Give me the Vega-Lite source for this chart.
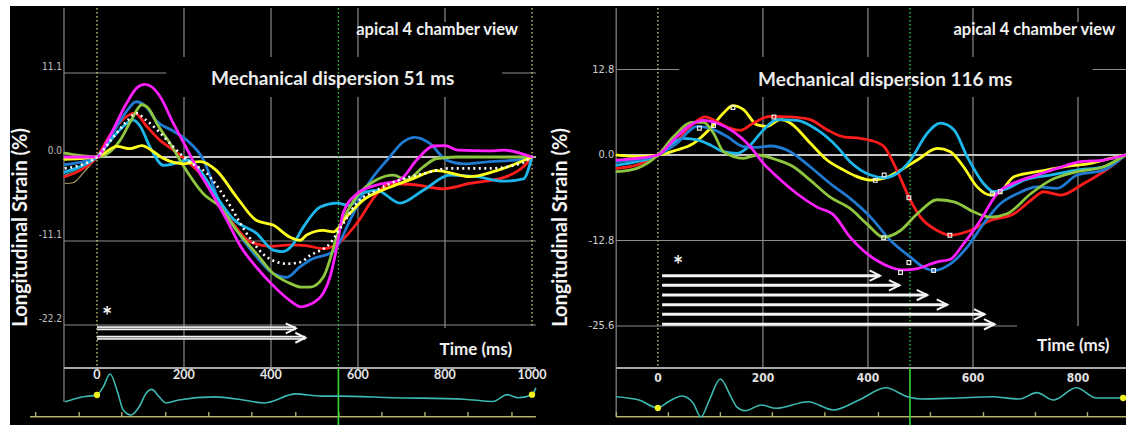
{
"$schema": "https://vega.github.io/schema/vega-lite/v6.json",
"width": 1116, "height": 419,
"padding": {"left": 10, "top": 6, "right": 0, "bottom": 0},
"autosize": {"type": "none"},
"background": "white",
"config": {"view": {"fill": "black", "stroke": null}, "text": {"font": "Lato"}},
"datasets": {
"L": [
{"s":"red","t":-74,"v":-2.6},{"s":"red","t":-40,"v":-1.8},{"s":"red","t":0,"v":0},{"s":"red","t":28,"v":2.7},{"s":"red","t":62,"v":5.1},{"s":"red","t":87,"v":5.8},{"s":"red","t":115,"v":4.0},{"s":"red","t":145,"v":2.2},{"s":"red","t":176,"v":0.9},{"s":"red","t":200,"v":-0.2},{"s":"red","t":237,"v":-2.2},{"s":"red","t":275,"v":-5.7},{"s":"red","t":313,"v":-8.8},{"s":"red","t":352,"v":-11.2},{"s":"red","t":400,"v":-11.8},{"s":"red","t":444,"v":-11.6},{"s":"red","t":480,"v":-11.7},{"s":"red","t":520,"v":-12.1},{"s":"red","t":559,"v":-11.2},{"s":"red","t":597,"v":-8.8},{"s":"red","t":643,"v":-4.9},{"s":"red","t":673,"v":-3.5},{"s":"red","t":735,"v":-3.7},{"s":"red","t":796,"v":-4.2},{"s":"red","t":857,"v":-3.5},{"s":"red","t":941,"v":-2.6},{"s":"red","t":980,"v":-1.3},{"s":"red","t":1000,"v":0},
{"s":"blue","t":-74,"v":-1.0},{"s":"blue","t":-40,"v":-0.7},{"s":"blue","t":0,"v":0},{"s":"blue","t":40,"v":3.5},{"s":"blue","t":70,"v":6.2},{"s":"blue","t":90,"v":7.3},{"s":"blue","t":110,"v":6.8},{"s":"blue","t":138,"v":4.7},{"s":"blue","t":176,"v":3.4},{"s":"blue","t":207,"v":2.2},{"s":"blue","t":245,"v":-0.4},{"s":"blue","t":283,"v":-6.2},{"s":"blue","t":321,"v":-9.7},{"s":"blue","t":367,"v":-13.2},{"s":"blue","t":405,"v":-15.4},{"s":"blue","t":436,"v":-15.9},{"s":"blue","t":467,"v":-14.5},{"s":"blue","t":490,"v":-13.6},{"s":"blue","t":543,"v":-12.5},{"s":"blue","t":582,"v":-8.3},{"s":"blue","t":620,"v":-3.9},{"s":"blue","t":673,"v":0},{"s":"blue","t":704,"v":2.0},{"s":"blue","t":731,"v":2.6},{"s":"blue","t":765,"v":1.8},{"s":"blue","t":803,"v":-0.4},{"s":"blue","t":842,"v":-0.9},{"s":"blue","t":904,"v":-0.6},{"s":"blue","t":965,"v":-0.4},{"s":"blue","t":1000,"v":0},
{"s":"cyan","t":-74,"v":-2.0},{"s":"cyan","t":-40,"v":-1.3},{"s":"cyan","t":0,"v":0},{"s":"cyan","t":40,"v":2.8},{"s":"cyan","t":70,"v":4.5},{"s":"cyan","t":82,"v":4.9},{"s":"cyan","t":100,"v":4.0},{"s":"cyan","t":122,"v":1.3},{"s":"cyan","t":153,"v":-1.1},{"s":"cyan","t":176,"v":-0.9},{"s":"cyan","t":207,"v":-0.4},{"s":"cyan","t":237,"v":-1.8},{"s":"cyan","t":275,"v":-5.2},{"s":"cyan","t":313,"v":-8.2},{"s":"cyan","t":367,"v":-10.1},{"s":"cyan","t":405,"v":-12.3},{"s":"cyan","t":428,"v":-12.5},{"s":"cyan","t":447,"v":-11.8},{"s":"cyan","t":475,"v":-9.2},{"s":"cyan","t":513,"v":-6.6},{"s":"cyan","t":551,"v":-6.1},{"s":"cyan","t":582,"v":-6.4},{"s":"cyan","t":605,"v":-4.9},{"s":"cyan","t":643,"v":-4.4},{"s":"cyan","t":697,"v":-6.1},{"s":"cyan","t":750,"v":-4.4},{"s":"cyan","t":811,"v":-2.4},{"s":"cyan","t":873,"v":-2.6},{"s":"cyan","t":934,"v":-3.2},{"s":"cyan","t":980,"v":-2.9},{"s":"cyan","t":1000,"v":0},
{"s":"green","t":-74,"v":0.5},{"s":"green","t":-40,"v":0.2},{"s":"green","t":0,"v":0},{"s":"green","t":53,"v":2.2},{"s":"green","t":80,"v":5.0},{"s":"green","t":103,"v":6.9},{"s":"green","t":120,"v":6.3},{"s":"green","t":138,"v":4.4},{"s":"green","t":168,"v":1.8},{"s":"green","t":200,"v":-1.3},{"s":"green","t":245,"v":-4.9},{"s":"green","t":283,"v":-6.6},{"s":"green","t":321,"v":-9.7},{"s":"green","t":367,"v":-12.8},{"s":"green","t":405,"v":-15.4},{"s":"green","t":444,"v":-16.7},{"s":"green","t":470,"v":-17.2},{"s":"green","t":490,"v":-17.2},{"s":"green","t":520,"v":-15.9},{"s":"green","t":559,"v":-9.2},{"s":"green","t":597,"v":-5.2},{"s":"green","t":643,"v":-3.0},{"s":"green","t":681,"v":-2.4},{"s":"green","t":712,"v":-3.0},{"s":"green","t":750,"v":-1.3},{"s":"green","t":781,"v":-0.2},{"s":"green","t":827,"v":0},{"s":"green","t":1000,"v":0},
{"s":"yellow","t":-74,"v":-0.3},{"s":"yellow","t":-40,"v":-0.2},{"s":"yellow","t":0,"v":0},{"s":"yellow","t":46,"v":1.4},{"s":"yellow","t":76,"v":1.1},{"s":"yellow","t":103,"v":1.5},{"s":"yellow","t":130,"v":0.7},{"s":"yellow","t":153,"v":-0.2},{"s":"yellow","t":200,"v":-0.9},{"s":"yellow","t":237,"v":-0.6},{"s":"yellow","t":275,"v":-1.8},{"s":"yellow","t":321,"v":-5.3},{"s":"yellow","t":367,"v":-8.4},{"s":"yellow","t":405,"v":-9.0},{"s":"yellow","t":444,"v":-10.6},{"s":"yellow","t":467,"v":-11.0},{"s":"yellow","t":482,"v":-10.3},{"s":"yellow","t":520,"v":-9.7},{"s":"yellow","t":543,"v":-9.9},{"s":"yellow","t":574,"v":-7.9},{"s":"yellow","t":612,"v":-5.7},{"s":"yellow","t":673,"v":-4.0},{"s":"yellow","t":720,"v":-3.0},{"s":"yellow","t":781,"v":-1.8},{"s":"yellow","t":857,"v":-2.6},{"s":"yellow","t":919,"v":-1.8},{"s":"yellow","t":1000,"v":0},
{"s":"magenta","t":-74,"v":0},{"s":"magenta","t":-40,"v":0},{"s":"magenta","t":0,"v":0},{"s":"magenta","t":28,"v":2.6},{"s":"magenta","t":68,"v":7.1},{"s":"magenta","t":91,"v":9.1},{"s":"magenta","t":110,"v":9.6},{"s":"magenta","t":125,"v":9.3},{"s":"magenta","t":145,"v":8.0},{"s":"magenta","t":175,"v":4.5},{"s":"magenta","t":200,"v":1.8},{"s":"magenta","t":230,"v":-1.5},{"s":"magenta","t":260,"v":-4.4},{"s":"magenta","t":300,"v":-8.5},{"s":"magenta","t":330,"v":-11.8},{"s":"magenta","t":370,"v":-14.8},{"s":"magenta","t":400,"v":-16.7},{"s":"magenta","t":440,"v":-18.8},{"s":"magenta","t":470,"v":-19.8},{"s":"magenta","t":489,"v":-19.5},{"s":"magenta","t":520,"v":-18.0},{"s":"magenta","t":536,"v":-15.8},{"s":"magenta","t":551,"v":-12.0},{"s":"magenta","t":566,"v":-7.4},{"s":"magenta","t":597,"v":-4.9},{"s":"magenta","t":643,"v":-3.7},{"s":"magenta","t":697,"v":-3.0},{"s":"magenta","t":735,"v":-0.4},{"s":"magenta","t":773,"v":1.45},{"s":"magenta","t":800,"v":1.5},{"s":"magenta","t":830,"v":0.9},{"s":"magenta","t":900,"v":0.8},{"s":"magenta","t":935,"v":0.9},{"s":"magenta","t":1000,"v":0},
{"s":"mean","t":-74,"v":-1.5},{"s":"mean","t":-40,"v":-1.1},{"s":"mean","t":0,"v":0},{"s":"mean","t":40,"v":2.8},{"s":"mean","t":70,"v":4.8},{"s":"mean","t":90,"v":5.8},{"s":"mean","t":110,"v":5.0},{"s":"mean","t":138,"v":3.6},{"s":"mean","t":176,"v":1.3},{"s":"mean","t":207,"v":-0.4},{"s":"mean","t":253,"v":-2.2},{"s":"mean","t":298,"v":-5.7},{"s":"mean","t":344,"v":-10.1},{"s":"mean","t":390,"v":-13.2},{"s":"mean","t":436,"v":-14.1},{"s":"mean","t":467,"v":-13.9},{"s":"mean","t":490,"v":-13.0},{"s":"mean","t":536,"v":-11.4},{"s":"mean","t":566,"v":-8.8},{"s":"mean","t":597,"v":-6.1},{"s":"mean","t":643,"v":-4.4},{"s":"mean","t":697,"v":-3.0},{"s":"mean","t":750,"v":-2.2},{"s":"mean","t":811,"v":-1.5},{"s":"mean","t":904,"v":-1.5},{"s":"mean","t":972,"v":-0.9},{"s":"mean","t":1000,"v":0},
{"s":"thinA","t":-74,"v":-2.4},{"s":"thinA","t":-40,"v":-1.5},{"s":"thinA","t":0,"v":0},
{"s":"thinB","t":-74,"v":-3.5},{"s":"thinB","t":-55,"v":-3.4},{"s":"thinB","t":-30,"v":-2.0},{"s":"thinB","t":0,"v":0}
],
"R": [
{"s":"yellow","t":-78,"v":0},{"s":"yellow","t":-40,"v":-0.2},{"s":"yellow","t":0,"v":0},{"s":"yellow","t":36,"v":0.75},{"s":"yellow","t":68,"v":1.75},{"s":"yellow","t":100,"v":4.0},{"s":"yellow","t":125,"v":6.3},{"s":"yellow","t":143,"v":7.4},{"s":"yellow","t":163,"v":6.8},{"s":"yellow","t":189,"v":4.5},{"s":"yellow","t":208,"v":4.3},{"s":"yellow","t":233,"v":5.3},{"s":"yellow","t":252,"v":4.8},{"s":"yellow","t":290,"v":1.8},{"s":"yellow","t":322,"v":-0.75},{"s":"yellow","t":354,"v":-2.26},{"s":"yellow","t":375,"v":-3.1},{"s":"yellow","t":405,"v":-3.76},{"s":"yellow","t":430,"v":-3.5},{"s":"yellow","t":462,"v":-2.26},{"s":"yellow","t":494,"v":-0.75},{"s":"yellow","t":532,"v":1.0},{"s":"yellow","t":557,"v":0.5},{"s":"yellow","t":582,"v":-1.76},{"s":"yellow","t":608,"v":-4.77},{"s":"yellow","t":633,"v":-6.0},{"s":"yellow","t":652,"v":-5.5},{"s":"yellow","t":678,"v":-3.26},{"s":"yellow","t":722,"v":-2.5},{"s":"yellow","t":773,"v":-1.76},{"s":"yellow","t":824,"v":-1.26},{"s":"yellow","t":862,"v":-0.5},{"s":"yellow","t":890,"v":0},
{"s":"red","t":-78,"v":-2.0},{"s":"red","t":-40,"v":-1.5},{"s":"red","t":0,"v":0},{"s":"red","t":36,"v":2.0},{"s":"red","t":62,"v":4.3},{"s":"red","t":90,"v":5.7},{"s":"red","t":112,"v":5.0},{"s":"red","t":138,"v":4.0},{"s":"red","t":157,"v":3.7},{"s":"red","t":182,"v":4.8},{"s":"red","t":214,"v":5.8},{"s":"red","t":252,"v":5.7},{"s":"red","t":290,"v":5.3},{"s":"red","t":322,"v":3.8},{"s":"red","t":354,"v":2.7},{"s":"red","t":385,"v":2.5},{"s":"red","t":405,"v":2.2},{"s":"red","t":430,"v":1.3},{"s":"red","t":455,"v":-2.26},{"s":"red","t":481,"v":-6.8},{"s":"red","t":500,"v":-9.3},{"s":"red","t":532,"v":-11.3},{"s":"red","t":557,"v":-12.0},{"s":"red","t":595,"v":-11.3},{"s":"red","t":633,"v":-9.8},{"s":"red","t":678,"v":-8.8},{"s":"red","t":710,"v":-6.8},{"s":"red","t":735,"v":-5.5},{"s":"red","t":767,"v":-6.0},{"s":"red","t":811,"v":-4.26},{"s":"red","t":862,"v":-1.76},{"s":"red","t":890,"v":0},
{"s":"cyan","t":-78,"v":-1.5},{"s":"cyan","t":-40,"v":-1.0},{"s":"cyan","t":0,"v":0},{"s":"cyan","t":23,"v":1.5},{"s":"cyan","t":49,"v":2.5},{"s":"cyan","t":75,"v":2.26},{"s":"cyan","t":100,"v":1.5},{"s":"cyan","t":125,"v":0.5},{"s":"cyan","t":151,"v":0.26},{"s":"cyan","t":176,"v":1.5},{"s":"cyan","t":201,"v":3.76},{"s":"cyan","t":227,"v":5.3},{"s":"cyan","t":265,"v":5.2},{"s":"cyan","t":303,"v":3.8},{"s":"cyan","t":341,"v":1.26},{"s":"cyan","t":366,"v":-1.0},{"s":"cyan","t":405,"v":-3.0},{"s":"cyan","t":430,"v":-3.4},{"s":"cyan","t":455,"v":-2.76},{"s":"cyan","t":481,"v":-0.75},{"s":"cyan","t":513,"v":3.26},{"s":"cyan","t":538,"v":4.77},{"s":"cyan","t":564,"v":3.76},{"s":"cyan","t":589,"v":-0.26},{"s":"cyan","t":620,"v":-4.26},{"s":"cyan","t":640,"v":-5.5},{"s":"cyan","t":665,"v":-5.0},{"s":"cyan","t":697,"v":-3.76},{"s":"cyan","t":748,"v":-3.0},{"s":"cyan","t":798,"v":-2.26},{"s":"cyan","t":849,"v":-1.76},{"s":"cyan","t":890,"v":0},
{"s":"blue","t":-78,"v":-1.0},{"s":"blue","t":-40,"v":-0.7},{"s":"blue","t":0,"v":0},{"s":"blue","t":36,"v":1.76},{"s":"blue","t":75,"v":4.3},{"s":"blue","t":100,"v":4.0},{"s":"blue","t":132,"v":2.76},{"s":"blue","t":163,"v":1.26},{"s":"blue","t":189,"v":1.15},{"s":"blue","t":214,"v":1.35},{"s":"blue","t":252,"v":0.5},{"s":"blue","t":290,"v":-1.76},{"s":"blue","t":328,"v":-4.26},{"s":"blue","t":366,"v":-6.5},{"s":"blue","t":405,"v":-9.3},{"s":"blue","t":443,"v":-12.8},{"s":"blue","t":481,"v":-15.3},{"s":"blue","t":506,"v":-16.8},{"s":"blue","t":525,"v":-17.3},{"s":"blue","t":557,"v":-16.3},{"s":"blue","t":589,"v":-13.8},{"s":"blue","t":620,"v":-10.3},{"s":"blue","t":652,"v":-7.3},{"s":"blue","t":684,"v":-5.8},{"s":"blue","t":722,"v":-4.77},{"s":"blue","t":760,"v":-5.0},{"s":"blue","t":798,"v":-3.0},{"s":"blue","t":849,"v":-2.26},{"s":"blue","t":890,"v":0},
{"s":"green","t":-78,"v":-2.5},{"s":"green","t":-40,"v":-2.0},{"s":"green","t":0,"v":0},{"s":"green","t":30,"v":2.76},{"s":"green","t":65,"v":4.9},{"s":"green","t":87,"v":4.9},{"s":"green","t":106,"v":3.26},{"s":"green","t":125,"v":0.5},{"s":"green","t":163,"v":-0.5},{"s":"green","t":189,"v":0},{"s":"green","t":227,"v":-0.75},{"s":"green","t":258,"v":-1.76},{"s":"green","t":290,"v":-3.76},{"s":"green","t":328,"v":-6.3},{"s":"green","t":366,"v":-8.0},{"s":"green","t":398,"v":-10.3},{"s":"green","t":430,"v":-12.3},{"s":"green","t":462,"v":-11.3},{"s":"green","t":494,"v":-8.8},{"s":"green","t":532,"v":-6.7},{"s":"green","t":564,"v":-7.0},{"s":"green","t":601,"v":-8.5},{"s":"green","t":633,"v":-9.3},{"s":"green","t":665,"v":-8.8},{"s":"green","t":710,"v":-5.8},{"s":"green","t":748,"v":-3.76},{"s":"green","t":798,"v":-2.5},{"s":"green","t":849,"v":-1.76},{"s":"green","t":890,"v":0},
{"s":"magenta","t":-78,"v":-0.75},{"s":"magenta","t":-40,"v":-0.5},{"s":"magenta","t":0,"v":0},{"s":"magenta","t":30,"v":2.26},{"s":"magenta","t":62,"v":4.5},{"s":"magenta","t":87,"v":5.2},{"s":"magenta","t":112,"v":4.8},{"s":"magenta","t":144,"v":3.5},{"s":"magenta","t":176,"v":1.26},{"s":"magenta","t":201,"v":-1.26},{"s":"magenta","t":227,"v":-3.26},{"s":"magenta","t":265,"v":-5.8},{"s":"magenta","t":303,"v":-7.8},{"s":"magenta","t":335,"v":-9.0},{"s":"magenta","t":366,"v":-12.3},{"s":"magenta","t":391,"v":-14.3},{"s":"magenta","t":417,"v":-15.8},{"s":"magenta","t":443,"v":-16.8},{"s":"magenta","t":468,"v":-17.2},{"s":"magenta","t":494,"v":-17.0},{"s":"magenta","t":532,"v":-16.0},{"s":"magenta","t":557,"v":-15.6},{"s":"magenta","t":582,"v":-13.3},{"s":"magenta","t":614,"v":-9.8},{"s":"magenta","t":646,"v":-5.77},{"s":"magenta","t":684,"v":-4.0},{"s":"magenta","t":722,"v":-3.0},{"s":"magenta","t":760,"v":-2.0},{"s":"magenta","t":805,"v":-1.0},{"s":"magenta","t":849,"v":-0.75},{"s":"magenta","t":890,"v":0}
],
"Lg": [
{"k":"g","t":200,"t2":200,"v":19.69,"v2":13.21},{"k":"g","t":200,"t2":200,"v":7.93,"v2":-27.88},
{"k":"g","t":400,"t2":400,"v":19.69,"v2":13.21},{"k":"g","t":400,"t2":400,"v":7.93,"v2":-27.88},
{"k":"g","t":600,"t2":600,"v":19.69,"v2":13.21},{"k":"g","t":600,"t2":600,"v":7.93,"v2":-27.88},
{"k":"g","t":800,"t2":800,"v":19.69,"v2":17.84},{"k":"g","t":800,"t2":800,"v":7.93,"v2":-22.6},
{"k":"g","t":-75.9,"t2":-75.9,"v":19.69,"v2":-32.37},
{"k":"g","t":-75.9,"t2":159,"v":11.1,"v2":11.1},{"k":"g","t":931,"t2":1009,"v":11.1,"v2":11.1},
{"k":"g","t":-75.9,"t2":1009,"v":-11.1,"v2":-11.1},{"k":"g","t":-75.9,"t2":1009,"v":-22.2,"v2":-22.2},
{"k":"z","t":-75.9,"t2":1009,"v":0,"v2":0},
{"k":"sep","t":-75.9,"t2":1009,"v":-27.88,"v2":-27.88},
{"k":"tl","t":-154,"t2":1009,"v":-34.32,"v2":-34.32},
{"k":"tk","t":-141,"t2":-141,"v":-34.32,"v2":-33.7},{"k":"tk","t":-41,"t2":-41,"v":-34.32,"v2":-33.7},{"k":"tk","t":57,"t2":57,"v":-34.32,"v2":-33.7},{"k":"tk","t":158,"t2":158,"v":-34.32,"v2":-33.7},{"k":"tk","t":257,"t2":257,"v":-34.32,"v2":-33.7},{"k":"tk","t":356,"t2":356,"v":-34.32,"v2":-33.7},{"k":"tk","t":457,"t2":457,"v":-34.32,"v2":-33.7},{"k":"tk","t":556,"t2":556,"v":-34.32,"v2":-33.7},{"k":"tk","t":655,"t2":655,"v":-34.32,"v2":-33.7},{"k":"tk","t":754,"t2":754,"v":-34.32,"v2":-33.7},{"k":"tk","t":853,"t2":853,"v":-34.32,"v2":-33.7},{"k":"tk","t":954,"t2":954,"v":-34.32,"v2":-33.7},
{"k":"dy","t":0,"t2":0,"v":19.69,"v2":-27.88},{"k":"dy","t":1000,"t2":1000,"v":19.69,"v2":-22.6},
{"k":"dg","t":555,"t2":555,"v":19.69,"v2":-27.88},
{"k":"sg","t":555,"t2":555,"v":-27.88,"v2":-35.4}
],
"Rg": [
{"k":"g","t":200,"t2":200,"v":22.0,"v2":14.67},{"k":"g","t":200,"t2":200,"v":8.68,"v2":-31.89},
{"k":"g","t":400,"t2":400,"v":22.0,"v2":14.67},{"k":"g","t":400,"t2":400,"v":8.68,"v2":-31.89},
{"k":"g","t":600,"t2":600,"v":22.0,"v2":14.67},{"k":"g","t":600,"t2":600,"v":8.68,"v2":-31.89},
{"k":"g","t":800,"t2":800,"v":22.0,"v2":19.91},{"k":"g","t":800,"t2":800,"v":8.68,"v2":-25.6},
{"k":"g","t":-79.4,"t2":-79.4,"v":22.0,"v2":-39.18},
{"k":"g","t":-79.4,"t2":40.6,"v":12.8,"v2":12.8},{"k":"g","t":828,"t2":891.4,"v":12.8,"v2":12.8},
{"k":"g","t":-79.4,"t2":891.4,"v":-12.8,"v2":-12.8},{"k":"g","t":-79.4,"t2":684,"v":-25.6,"v2":-25.6},
{"k":"z","t":-79.4,"t2":891.4,"v":0,"v2":0},
{"k":"sep","t":-79.4,"t2":891.4,"v":-31.89,"v2":-31.89},
{"k":"tl","t":-79.4,"t2":891.4,"v":-39.18,"v2":-39.18},
{"k":"tk","t":-79,"t2":-79,"v":-39.18,"v2":-38.5},{"k":"tk","t":20,"t2":20,"v":-39.18,"v2":-38.5},{"k":"tk","t":119,"t2":119,"v":-39.18,"v2":-38.5},{"k":"tk","t":218,"t2":218,"v":-39.18,"v2":-38.5},{"k":"tk","t":318,"t2":318,"v":-39.18,"v2":-38.5},{"k":"tk","t":420,"t2":420,"v":-39.18,"v2":-38.5},{"k":"tk","t":519,"t2":519,"v":-39.18,"v2":-38.5},{"k":"tk","t":620,"t2":620,"v":-39.18,"v2":-38.5},{"k":"tk","t":719,"t2":719,"v":-39.18,"v2":-38.5},{"k":"tk","t":818,"t2":818,"v":-39.18,"v2":-38.5},
{"k":"dy","t":0,"t2":0,"v":22.0,"v2":-31.89},
{"k":"dg","t":480,"t2":480,"v":22.0,"v2":-31.89},
{"k":"sg","t":480,"t2":480,"v":-31.89,"v2":-40.42}
],
"Le": [
{"t":-73.6,"v":-32.34},{"t":-34.5,"v":-31.7},{"t":0,"v":-31.45},{"t":15,"v":-30.3},{"t":30,"v":-28.67},{"t":48,"v":-31.2},{"t":60,"v":-33.4},{"t":78,"v":-34.09},{"t":97,"v":-33.0},{"t":113,"v":-31.2},{"t":126,"v":-30.7},{"t":143,"v":-31.7},{"t":159,"v":-32.5},{"t":188,"v":-32.1},{"t":269,"v":-31.7},{"t":336,"v":-32.1},{"t":384,"v":-32.5},{"t":457,"v":-31.3},{"t":515,"v":-31.6},{"t":556,"v":-31.6},{"t":680,"v":-31.8},{"t":844,"v":-32.0},{"t":910,"v":-32.3},{"t":943,"v":-31.4},{"t":968,"v":-31.8},{"t":1000,"v":-31.4},{"t":1009,"v":-30.5}
],
"Re": [
{"t":-80,"v":-36.18},{"t":-36,"v":-36.68},{"t":0,"v":-37.87},{"t":20,"v":-36.93},{"t":46,"v":-36.08},{"t":67,"v":-37.13},{"t":82,"v":-39.22},{"t":98,"v":-36.68},{"t":119,"v":-33.53},{"t":139,"v":-36.18},{"t":150,"v":-37.7},{"t":166,"v":-38.28},{"t":197,"v":-37.43},{"t":225,"v":-37.92},{"t":286,"v":-36.93},{"t":334,"v":-38.17},{"t":383,"v":-36.68},{"t":434,"v":-34.84},{"t":475,"v":-36.18},{"t":499,"v":-36.53},{"t":568,"v":-36.38},{"t":636,"v":-36.18},{"t":688,"v":-36.53},{"t":722,"v":-35.58},{"t":753,"v":-36.68},{"t":797,"v":-34.84},{"t":835,"v":-36.38},{"t":891,"v":-36.38}
],
"Ld": [{"t":0,"v":-31.45},{"t":1000,"v":-31.4}],
"Rd": [{"t":0,"v":-37.87},{"t":886,"v":-36.38}],
"La": [{"t":0,"t2":457,"v":-22.64,"v2":-22.64},{"t":0,"t2":479,"v":-23.88,"v2":-23.88}],
"Ra": [{"t":8,"t2":423,"v":-18.07,"v2":-18.07},{"t":8,"t2":460,"v":-19.51,"v2":-19.51},{"t":8,"t2":513,"v":-20.96,"v2":-20.96},{"t":8,"t2":551,"v":-22.41,"v2":-22.41},{"t":8,"t2":622,"v":-23.85,"v2":-23.85},{"t":8,"t2":641,"v":-25.34,"v2":-25.34}],
"Rm": [{"t":79,"v":4.0},{"t":106,"v":4.4},{"t":143,"v":7.1},{"t":221,"v":5.7},{"t":414,"v":-3.8},{"t":431,"v":-3.0},{"t":478,"v":-6.4},{"t":430,"v":-12.4},{"t":462,"v":-17.6},{"t":478,"v":-16.1},{"t":525,"v":-17.3},{"t":556,"v":-12.0},{"t":637,"v":-5.8},{"t":652,"v":-5.5}],
"Lt": [
{"k":"yl","label":"11.1","t":-80.5,"v":11.1},{"k":"yl","label":"0.0","t":-80.5,"v":0},{"k":"yl","label":"-11.1","t":-80.5,"v":-11.1},{"k":"yl","label":"-22.2","t":-80.5,"v":-22.2},
{"k":"xl","label":"0","t":0,"v":-28.8},{"k":"xl","label":"200","t":200,"v":-28.8},{"k":"xl","label":"400","t":400,"v":-28.8},{"k":"xl","label":"600","t":600,"v":-28.8},{"k":"xl","label":"800","t":800,"v":-28.8},{"k":"xl","label":"1000","t":1000,"v":-28.8},
{"k":"big","label":"Mechanical dispersion 51 ms","t":542,"v":10.24},
{"k":"view","label":"apical 4 chamber view","t":782,"v":16.78},
{"k":"time","label":"Time (ms)","t":871,"v":-25.5},
{"k":"ylab","label":"Longitudinal Strain (%)","t":-174.7,"v":-9.3},
{"k":"ast","label":"*","t":23,"v":-20.57}
],
"Rt": [
{"k":"yl","label":"12.8","t":-83.2,"v":12.8},{"k":"yl","label":"0.0","t":-83.2,"v":0},{"k":"yl","label":"-12.8","t":-83.2,"v":-12.8},{"k":"yl","label":"-25.6","t":-83.2,"v":-25.6},
{"k":"xl","label":"0","t":0,"v":-33.43},{"k":"xl","label":"200","t":200,"v":-33.43},{"k":"xl","label":"400","t":400,"v":-33.43},{"k":"xl","label":"600","t":600,"v":-33.43},{"k":"xl","label":"800","t":800,"v":-33.43},
{"k":"big","label":"Mechanical dispersion 116 ms","t":433,"v":11.3},
{"k":"view","label":"apical 4 chamber view","t":716.8,"v":18.71},
{"k":"time","label":"Time (ms)","t":791,"v":-28.6},
{"k":"ylab","label":"Longitudinal Strain (%)","t":-185,"v":-10.85},
{"k":"ast","label":"*","t":38.7,"v":-15.97}
]
},
"layer": [
{
"encoding": {
"x": {"field":"t","type":"quantitative","scale":{"domain":[-200,2365.6],"nice":false,"zero":false},"axis":null},
"y": {"field":"v","type":"quantitative","scale":{"domain":[-35.41,19.95],"nice":false,"zero":false},"axis":null}
},
"layer": [
{"data":{"name":"Lg"},"transform":[{"filter":"datum.k==='g'"}],"mark":{"type":"rule","stroke":"#8c8c8c","strokeWidth":1.2},"encoding":{"x2":{"field":"t2"},"y2":{"field":"v2"}}},
{"data":{"name":"Lg"},"transform":[{"filter":"datum.k==='z'"}],"mark":{"type":"rule","stroke":"#c4c4c4","strokeWidth":2},"encoding":{"x2":{"field":"t2"},"y2":{"field":"v2"}}},
{"data":{"name":"Lg"},"transform":[{"filter":"datum.k==='sep'"}],"mark":{"type":"rule","stroke":"#a8a8a8","strokeWidth":2.2},"encoding":{"x2":{"field":"t2"},"y2":{"field":"v2"}}},
{"data":{"name":"Lg"},"transform":[{"filter":"datum.k==='tl' || datum.k==='tk'"}],"mark":{"type":"rule","stroke":"#b4b070","strokeWidth":1.4},"encoding":{"x2":{"field":"t2"},"y2":{"field":"v2"}}},
{"data":{"name":"Lg"},"transform":[{"filter":"datum.k==='dy'"}],"mark":{"type":"rule","stroke":"#c8c870","strokeWidth":1.4,"strokeDash":[1.5,2.5]},"encoding":{"x2":{"field":"t2"},"y2":{"field":"v2"}}},
{"data":{"name":"Lg"},"transform":[{"filter":"datum.k==='dg'"}],"mark":{"type":"rule","stroke":"#3cc83c","strokeWidth":1.4,"strokeDash":[1.5,2.5]},"encoding":{"x2":{"field":"t2"},"y2":{"field":"v2"}}},
{"data":{"name":"Lg"},"transform":[{"filter":"datum.k==='sg'"}],"mark":{"type":"rule","stroke":"#34d834","strokeWidth":1.6},"encoding":{"x2":{"field":"t2"},"y2":{"field":"v2"}}},
{"data":{"name":"Le"},"mark":{"type":"line","interpolate":"monotone","stroke":"#3cb8b0","strokeWidth":1.6}},
{"data":{"name":"Ld"},"mark":{"type":"point","filled":true,"fill":"#f0f020","size":40,"opacity":1}},
{"data":{"name":"L"},"transform":[{"filter":{"field":"s","oneOf":["thinA","thinB"]}}],"mark":{"type":"line","interpolate":"monotone","strokeWidth":1.2},"encoding":{"color":{"field":"s","type":"nominal","scale":{"domain":["blue","red","green","cyan","yellow","magenta","thinA","thinB"],"range":["#1f7ad0","#ff1c1c","#8ec63f","#1db6ea","#ffff1e","#ff1fff","#3aa6a6","#a89a60"]},"legend":null}}},
{"data":{"name":"L"},"transform":[{"filter":{"not":{"field":"s","oneOf":["thinA","thinB","mean"]}}}],"mark":{"type":"line","interpolate":"monotone","strokeWidth":2.8,"strokeCap":"round","strokeJoin":"round"},"encoding":{"color":{"field":"s","type":"nominal","scale":{"domain":["blue","red","green","cyan","yellow","magenta","thinA","thinB"],"range":["#1f7ad0","#ff1c1c","#8ec63f","#1db6ea","#ffff1e","#ff1fff","#3aa6a6","#a89a60"]},"legend":null}}},
{"data":{"name":"L"},"transform":[{"filter":{"field":"s","equal":"mean"}}],"mark":{"type":"line","interpolate":"monotone","stroke":"white","strokeWidth":2.6,"strokeDash":[2,3.5]}},
{"data":{"name":"La"},"mark":{"type":"rule","stroke":"#f4f4f4","strokeWidth":4},"encoding":{"x2":{"field":"t2"},"y2":{"field":"v2"}}},
{"data":{"name":"La"},"mark":{"type":"rule","stroke":"#707070","strokeWidth":1},"encoding":{"x2":{"field":"t2"},"y2":{"field":"v2"}}},
{"data":{"name":"La"},"mark":{"type":"point","shape":"M -2 -1 L 0 0 L -2 1","size":100,"filled":false,"stroke":"#f4f4f4","strokeWidth":2,"opacity":1},"encoding":{"x":{"field":"t2","type":"quantitative","scale":{"domain":[-200,2365.6],"nice":false,"zero":false},"axis":null}}},
{"data":{"name":"Lt"},"transform":[{"filter":"datum.k==='yl'"}],"mark":{"type":"text","align":"right","baseline":"alphabetic","dy":-3,"fontSize":10,"font":"Liberation Sans Narrow, DejaVu Sans Condensed, Liberation Sans","fill":"#c0c0c0"},"encoding":{"text":{"field":"label"}}},
{"data":{"name":"Lt"},"transform":[{"filter":"datum.k==='xl'"}],"mark":{"type":"text","align":"center","baseline":"middle","fontSize":12.5,"fontWeight":"bold","fill":"#e6e6e6"},"encoding":{"text":{"field":"label"}}},
{"data":{"name":"Lt"},"transform":[{"filter":"datum.k==='big'"}],"mark":{"type":"text","align":"center","baseline":"middle","fontSize":19,"fontWeight":"bold","fill":"#ececec"},"encoding":{"text":{"field":"label"}}},
{"data":{"name":"Lt"},"transform":[{"filter":"datum.k==='view'"}],"mark":{"type":"text","align":"center","baseline":"middle","fontSize":16.5,"fontWeight":"bold","fill":"#f0f0f0"},"encoding":{"text":{"field":"label"}}},
{"data":{"name":"Lt"},"transform":[{"filter":"datum.k==='time'"}],"mark":{"type":"text","align":"center","baseline":"middle","fontSize":17,"fontWeight":"bold","fill":"#f0f0f0"},"encoding":{"text":{"field":"label"}}},
{"data":{"name":"Lt"},"transform":[{"filter":"datum.k==='ylab'"}],"mark":{"type":"text","align":"center","baseline":"middle","angle":270,"fontSize":20,"fontWeight":"bold","fill":"#f4f4f4"},"encoding":{"text":{"field":"label"}}},
{"data":{"name":"Lt"},"transform":[{"filter":"datum.k==='ast'"}],"mark":{"type":"text","align":"center","baseline":"middle","dy":5,"fontSize":24,"fontWeight":"bold","fill":"#f4f4f4"},"encoding":{"text":{"field":"label"}}}
]
},
{
"encoding": {
"x": {"field":"t","type":"quantitative","scale":{"domain":[-1233.7,891.4],"nice":false,"zero":false},"axis":null},
"y": {"field":"v","type":"quantitative","scale":{"domain":[-40.42,22.31],"nice":false,"zero":false},"axis":null}
},
"layer": [
{"data":{"name":"Rg"},"transform":[{"filter":"datum.k==='g'"}],"mark":{"type":"rule","stroke":"#8c8c8c","strokeWidth":1.2},"encoding":{"x2":{"field":"t2"},"y2":{"field":"v2"}}},
{"data":{"name":"Rg"},"transform":[{"filter":"datum.k==='z'"}],"mark":{"type":"rule","stroke":"#c4c4c4","strokeWidth":2},"encoding":{"x2":{"field":"t2"},"y2":{"field":"v2"}}},
{"data":{"name":"Rg"},"transform":[{"filter":"datum.k==='sep'"}],"mark":{"type":"rule","stroke":"#a8a8a8","strokeWidth":2.2},"encoding":{"x2":{"field":"t2"},"y2":{"field":"v2"}}},
{"data":{"name":"Rg"},"transform":[{"filter":"datum.k==='tl' || datum.k==='tk'"}],"mark":{"type":"rule","stroke":"#b4b070","strokeWidth":1.4},"encoding":{"x2":{"field":"t2"},"y2":{"field":"v2"}}},
{"data":{"name":"Rg"},"transform":[{"filter":"datum.k==='dy'"}],"mark":{"type":"rule","stroke":"#c8c870","strokeWidth":1.4,"strokeDash":[1.5,2.5]},"encoding":{"x2":{"field":"t2"},"y2":{"field":"v2"}}},
{"data":{"name":"Rg"},"transform":[{"filter":"datum.k==='dg'"}],"mark":{"type":"rule","stroke":"#3cc83c","strokeWidth":1.4,"strokeDash":[1.5,2.5]},"encoding":{"x2":{"field":"t2"},"y2":{"field":"v2"}}},
{"data":{"name":"Rg"},"transform":[{"filter":"datum.k==='sg'"}],"mark":{"type":"rule","stroke":"#34d834","strokeWidth":1.6},"encoding":{"x2":{"field":"t2"},"y2":{"field":"v2"}}},
{"data":{"name":"Re"},"mark":{"type":"line","interpolate":"monotone","stroke":"#3cb8b0","strokeWidth":1.6}},
{"data":{"name":"Rd"},"mark":{"type":"point","filled":true,"fill":"#f0f020","size":40,"opacity":1}},
{"data":{"name":"R"},"mark":{"type":"line","interpolate":"monotone","strokeWidth":2.8,"strokeCap":"round","strokeJoin":"round"},"encoding":{"color":{"field":"s","type":"nominal","scale":{"domain":["blue","red","green","cyan","yellow","magenta","thinA","thinB"],"range":["#1f7ad0","#ff1c1c","#8ec63f","#1db6ea","#ffff1e","#ff1fff","#3aa6a6","#a89a60"]},"legend":null}}},
{"data":{"name":"Rm"},"mark":{"type":"point","shape":"square","size":14,"filled":false,"stroke":"#e8e8e8","strokeWidth":1.2,"opacity":1}},
{"data":{"name":"Ra"},"mark":{"type":"rule","stroke":"#f4f4f4","strokeWidth":3},"encoding":{"x2":{"field":"t2"},"y2":{"field":"v2"}}},
{"data":{"name":"Ra"},"mark":{"type":"point","shape":"M -2 -1 L 0 0 L -2 1","size":110,"filled":false,"stroke":"#f4f4f4","strokeWidth":2,"opacity":1},"encoding":{"x":{"field":"t2","type":"quantitative","scale":{"domain":[-1233.7,891.4],"nice":false,"zero":false},"axis":null}}},
{"data":{"name":"Rt"},"transform":[{"filter":"datum.k==='yl'"}],"mark":{"type":"text","align":"right","baseline":"middle","fontSize":11,"font":"Liberation Sans Narrow, DejaVu Sans Condensed, Liberation Sans","fill":"#d0d0d0"},"encoding":{"text":{"field":"label"}}},
{"data":{"name":"Rt"},"transform":[{"filter":"datum.k==='xl'"}],"mark":{"type":"text","align":"center","baseline":"middle","fontSize":12,"fontWeight":"bold","font":"Liberation Sans Narrow, DejaVu Sans Condensed, Liberation Sans","fill":"#e0e0e0"},"encoding":{"text":{"field":"label"}}},
{"data":{"name":"Rt"},"transform":[{"filter":"datum.k==='big'"}],"mark":{"type":"text","align":"center","baseline":"middle","fontSize":19,"fontWeight":"bold","fill":"#ececec"},"encoding":{"text":{"field":"label"}}},
{"data":{"name":"Rt"},"transform":[{"filter":"datum.k==='view'"}],"mark":{"type":"text","align":"center","baseline":"middle","fontSize":16.5,"fontWeight":"bold","fill":"#f0f0f0"},"encoding":{"text":{"field":"label"}}},
{"data":{"name":"Rt"},"transform":[{"filter":"datum.k==='time'"}],"mark":{"type":"text","align":"center","baseline":"middle","fontSize":17,"fontWeight":"bold","fill":"#f0f0f0"},"encoding":{"text":{"field":"label"}}},
{"data":{"name":"Rt"},"transform":[{"filter":"datum.k==='ylab'"}],"mark":{"type":"text","align":"center","baseline":"middle","angle":270,"fontSize":20,"fontWeight":"bold","fill":"#f4f4f4"},"encoding":{"text":{"field":"label"}}},
{"data":{"name":"Rt"},"transform":[{"filter":"datum.k==='ast'"}],"mark":{"type":"text","align":"center","baseline":"middle","dy":5,"fontSize":24,"fontWeight":"bold","fill":"#f4f4f4"},"encoding":{"text":{"field":"label"}}}
]
}
],
"resolve": {"scale": {"x": "independent", "y": "independent"}}
}
